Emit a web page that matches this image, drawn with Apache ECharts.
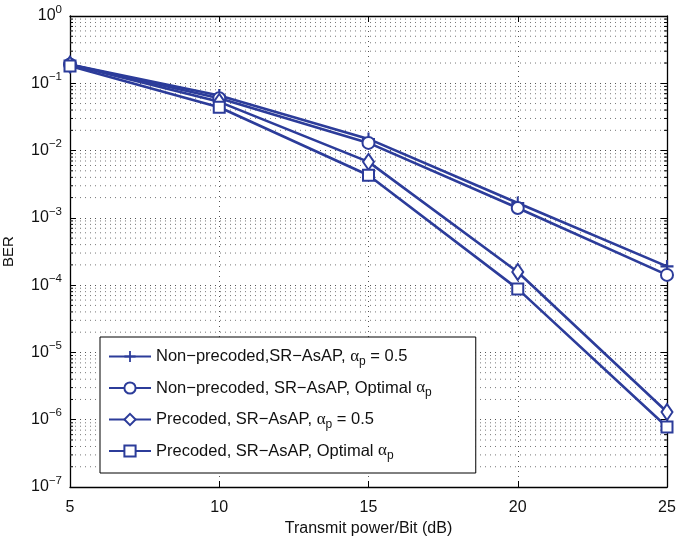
<!DOCTYPE html>
<html>
<head>
<meta charset="utf-8">
<script src="https://cdn.jsdelivr.net/npm/echarts@6/dist/echarts.min.js"></script>
<style>
  html, body { margin: 0; padding: 0; background: #fff; }
  #chart { width: 678px; height: 541px; }
</style>
</head>
<body>
<div id="chart"></div>
<script>
// Transmit power per bit (dB)
const powerDb = [5, 10, 15, 20, 25];

// Bit error rate for each scheme
const nonPrecodedHalf = [0.19, 0.066, 0.0149, 0.00166, 0.00019];
const nonPrecodedOpt = [0.19, 0.060, 0.0130, 0.00140, 0.000142];
const precodedHalf = [0.19, 0.053, 0.0068, 0.000157, 0.0000013];
const precodedOpt = [0.18, 0.044, 0.0043, 0.000088, 0.00000078];

const seriesNames = [
  'Non-precoded,SR-AsAP, ap = 0.5',
  'Non-precoded, SR-AsAP, Optimal ap',
  'Precoded, SR-AsAP, ap = 0.5',
  'Precoded, SR-AsAP, Optimal ap'
];
const legendLabels = [
  'Non\u2212precoded,SR\u2212AsAP, {a|\u03b1}{s|p}{t| = 0.5}',
  'Non\u2212precoded, SR\u2212AsAP, Optimal {a|\u03b1}{s|p}',
  'Precoded, SR\u2212AsAP, {a|\u03b1}{s|p}{t| = 0.5}',
  'Precoded, SR\u2212AsAP, Optimal {a|\u03b1}{s|p}'
];

// Decade exponents shown on the BER axis
const berMinExp = -7;
const berMaxExp = 0;

// Minor log positions 2..9 in every decade
const minorValues = [];
for (let e = berMinExp; e < berMaxExp; e++) {
  for (let m = 2; m <= 9; m++) minorValues.push(m * Math.pow(10, e));
}

const blue = '#2c3c9a';
const font = 'Liberation Sans, Arial, Helvetica, sans-serif';
const plusPath = 'path://M4.2,0 L5.8,0 L5.8,4.2 L10,4.2 L10,5.8 L5.8,5.8 L5.8,10 L4.2,10 L4.2,5.8 L0,5.8 L0,4.2 L4.2,4.2 Z';

function lineSeries(name, data, symbol, size, extra) {
  return Object.assign({
    type: 'line',
    name: name,
    data: powerDb.map((x, i) => [x, data[i]]),
    symbol: symbol,
    symbolSize: size,
    showAllSymbol: true,
    lineStyle: { color: blue, width: 2.6 },
    itemStyle: { color: blue, borderColor: blue, borderWidth: 2 },
    emphasis: { disabled: true },
    z: 5
  }, extra || {});
}

const chart = echarts.init(document.getElementById('chart'), null, { renderer: 'canvas' });

chart.setOption({
  animation: false,
  backgroundColor: '#fff',
  textStyle: { fontFamily: font },
  grid: { left: 70, right: 11, top: 16, bottom: 54, containLabel: false, outerBoundsMode: 'none' },
  legend: {
    data: seriesNames,
    orient: 'vertical',
    left: 100,
    top: 337,
    backgroundColor: '#fff',
    borderColor: '#000',
    borderWidth: 1,
    borderRadius: 0,
    padding: [11, 44, 11, 8],
    itemWidth: 42,
    itemHeight: 14,
    itemGap: 12,
    selectedMode: false,
    formatter: function (name) {
      return legendLabels[seriesNames.indexOf(name)];
    },
    textStyle: {
      fontFamily: font,
      fontSize: 16.5,
      color: '#111',
      rich: {
        a: { fontFamily: 'Liberation Serif, serif', fontSize: 17, color: '#111' },
        s: { fontSize: 12, color: '#111', padding: [10, 0, 0, 0] },
        t: { fontSize: 16.5, color: '#111' }
      }
    }
  },
  xAxis: [{
    type: 'value',
    min: 5,
    max: 25,
    interval: 5,
    name: 'Transmit power/Bit (dB)',
    nameLocation: 'middle',
    nameGap: 32,
    nameTextStyle: { fontSize: 16, color: '#111', fontFamily: font },
    axisLine: { lineStyle: { color: '#000', width: 1.3 } },
    axisTick: { inside: true, length: 6, lineStyle: { color: '#000' } },
    axisLabel: { fontSize: 16, color: '#111', margin: 13, fontFamily: font },
    splitLine: { show: true, lineStyle: { color: '#555', type: [1, 4], width: 1 } }
  }, {
    type: 'value',
    position: 'top',
    min: 5,
    max: 25,
    interval: 5,
    axisLine: { lineStyle: { color: '#000', width: 1.3 } },
    axisTick: { inside: true, length: 6, lineStyle: { color: '#000' } },
    axisLabel: { show: false },
    splitLine: { show: false }
  }],
  yAxis: [{
    type: 'log',
    logBase: 10,
    min: Math.pow(10, berMinExp),
    max: Math.pow(10, berMaxExp),
    interval: 1,
    name: 'BER',
    nameLocation: 'middle',
    nameRotate: 90,
    nameGap: 54,
    nameTextStyle: { fontSize: 15, color: '#111', fontFamily: font },
    axisLine: { lineStyle: { color: '#000', width: 1.3 } },
    axisTick: { inside: true, length: 6, lineStyle: { color: '#000' } },
    axisLabel: {
      margin: 8,
      formatter: function (v) {
        const e = Math.round(Math.log10(v));
        const exp = e < 0 ? '\u2212' + (-e) : String(e);
        return '{b|10}{e|' + exp + '}';
      },
      rich: {
        b: { fontSize: 16, color: '#111', fontFamily: font },
        e: { fontSize: 11.5, color: '#111', fontFamily: font, padding: [0, 0, 13, 0] }
      }
    },
    splitLine: { show: true, lineStyle: { color: '#555', type: [1, 4], width: 1 } }
  }, {
    type: 'log',
    logBase: 10,
    position: 'right',
    min: Math.pow(10, berMinExp),
    max: Math.pow(10, berMaxExp),
    interval: 1,
    axisLine: { lineStyle: { color: '#000', width: 1.3 } },
    axisTick: { inside: true, length: 6, lineStyle: { color: '#000' } },
    axisLabel: { show: false },
    splitLine: { show: false }
  }],
  series: [
    {
      // minor log grid lines and minor ticks on both vertical axes
      type: 'custom',
      name: 'minor',
      silent: true,
      z: 1,
      data: minorValues.map(v => [5, v]),
      renderItem: function (params, api) {
        const v = api.value(1);
        const p0 = api.coord([5, v]);
        const p1 = api.coord([25, v]);
        const st = { stroke: '#777', lineWidth: 1, lineDash: [1, 4] };
        const tk = { stroke: '#000', lineWidth: 1 };
        return {
          type: 'group',
          children: [
            { type: 'line', shape: { x1: p0[0], y1: p0[1], x2: p1[0], y2: p1[1] }, style: st },
            { type: 'line', shape: { x1: p0[0], y1: p0[1], x2: p0[0] + 3, y2: p0[1] }, style: tk },
            { type: 'line', shape: { x1: p1[0] - 3, y1: p1[1], x2: p1[0], y2: p1[1] }, style: tk }
          ]
        };
      }
    },
    lineSeries(seriesNames[0], nonPrecodedHalf, plusPath, 13, { itemStyle: { color: blue, borderWidth: 0 } }),
    lineSeries(seriesNames[1], nonPrecodedOpt, 'emptyCircle', 12),
    lineSeries(seriesNames[2], precodedHalf, 'emptyDiamond', [11, 16]),
    lineSeries(seriesNames[3], precodedOpt, 'emptyRect', 11)
  ]
});
</script>
</body>
</html>
